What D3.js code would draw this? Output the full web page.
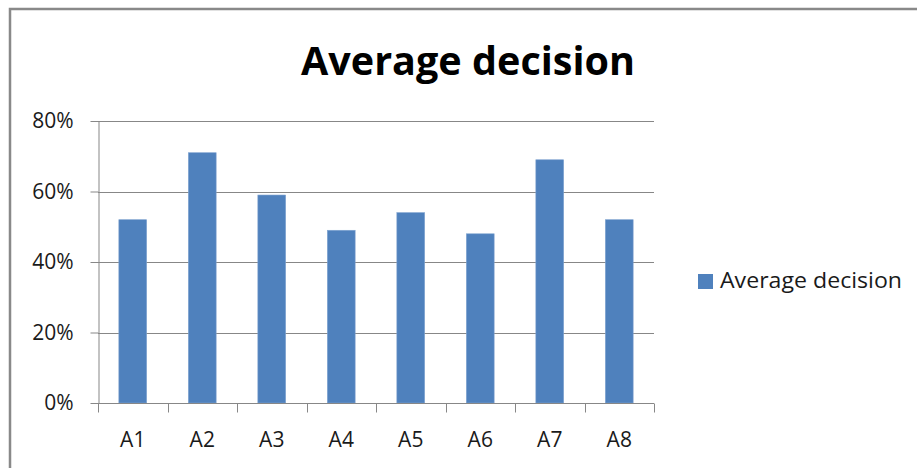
<!DOCTYPE html>
<html>
<head>
<meta charset="utf-8">
<script src="https://cdn.jsdelivr.net/npm/d3@7/dist/d3.min.js"></script>
<style>
  html, body { margin: 0; padding: 0; background: #fff; }
  svg { display: block; }
  text { font-family: "Open Sans", "Liberation Sans", sans-serif; }
</style>
</head>
<body>
<svg id="chart" width="917" height="468"></svg>
<script>
// Chart data
const categories = ["A1", "A2", "A3", "A4", "A5", "A6", "A7", "A8"];
const averageDecision = [0.52, 0.71, 0.59, 0.49, 0.54, 0.48, 0.69, 0.52];
const yTicks = [0, 0.2, 0.4, 0.6, 0.8];
const seriesName = "Average decision";
const chartTitle = "Average decision";

const svg = d3.select("#chart");
const W = 917, H = 468;
const plot = { left: 98, right: 654, top: 121, bottom: 403 };
const barColor = "#4F81BD";
const lineColor = "#878787";
const textColor = "#1a1a1a";

// Outer chart frame (runs off the right and bottom edges)
svg.append("rect")
  .attr("x", 10).attr("y", 9)
  .attr("width", W + 20).attr("height", H + 20)
  .attr("fill", "#fff")
  .attr("stroke", "#898989").attr("stroke-width", 2.5);

const x = d3.scaleBand()
  .domain(categories)
  .range([plot.left, plot.right])
  .paddingInner(0.6).paddingOuter(0.3);

const xEdges = d3.scaleLinear()
  .domain([0, categories.length])
  .range([plot.left, plot.right]);

const y = d3.scaleLinear()
  .domain([0, 0.8])
  .range([plot.bottom, plot.top]);

// Horizontal gridlines
svg.append("g")
  .selectAll("line")
  .data(yTicks.filter(d => d > 0))
  .join("line")
  .attr("x1", plot.left).attr("x2", plot.right)
  .attr("y1", d => Math.round(y(d)) + 0.5)
  .attr("y2", d => Math.round(y(d)) + 0.5)
  .attr("stroke", lineColor).attr("stroke-width", 1);

// Bars
svg.append("g")
  .selectAll("rect")
  .data(categories.map((c, i) => ({ c, v: averageDecision[i] })))
  .join("rect")
  .attr("x", d => x(d.c))
  .attr("width", x.bandwidth())
  .attr("y", d => y(d.v))
  .attr("height", d => y(0) - y(d.v))
  .attr("fill", barColor)
  .attr("stroke", "#7fa3d0").attr("stroke-width", 0.6);

// Y axis
const yAxis = svg.append("g")
  .attr("transform", `translate(${plot.left + 0.5},0)`)
  .call(d3.axisLeft(y).tickValues(yTicks).tickFormat(d3.format(".0%"))
    .tickSizeInner(8).tickSizeOuter(0).tickPadding(17));
yAxis.select(".domain").attr("stroke", lineColor);
yAxis.selectAll(".tick line").attr("stroke", lineColor);
yAxis.selectAll("text")
  .attr("fill", textColor).style("font-size", "21px");

// X axis: category labels centred, tick marks on category edges
const xAxis = svg.append("g")
  .attr("transform", `translate(0,${plot.bottom + 0.5})`)
  .call(d3.axisBottom(x).tickSize(0).tickPadding(29));
xAxis.select(".domain").attr("stroke", lineColor).attr("d", `M${plot.left},0H${plot.right}`);
xAxis.selectAll("text")
  .attr("fill", textColor).style("font-size", "21px");

xAxis.append("g")
  .selectAll("line")
  .data(d3.range(categories.length + 1))
  .join("line")
  .attr("x1", d => Math.round(xEdges(d)) + 0.5)
  .attr("x2", d => Math.round(xEdges(d)) + 0.5)
  .attr("y1", 0).attr("y2", 9)
  .attr("stroke", lineColor);

// Title
svg.append("text")
  .attr("x", 301).attr("y", 75)
  .attr("textLength", 334).attr("lengthAdjust", "spacingAndGlyphs")
  .attr("fill", "#000")
  .style("font-size", "40px").style("font-weight", "bold")
  .text(chartTitle);

// Legend
const legend = svg.append("g");
legend.append("rect")
  .attr("x", 698).attr("y", 274).attr("width", 15).attr("height", 15)
  .attr("fill", barColor);
legend.append("text")
  .attr("x", 720).attr("y", 288)
  .attr("textLength", 182).attr("lengthAdjust", "spacingAndGlyphs")
  .attr("fill", textColor)
  .style("font-size", "22px")
  .text(seriesName);
</script>
</body>
</html>
